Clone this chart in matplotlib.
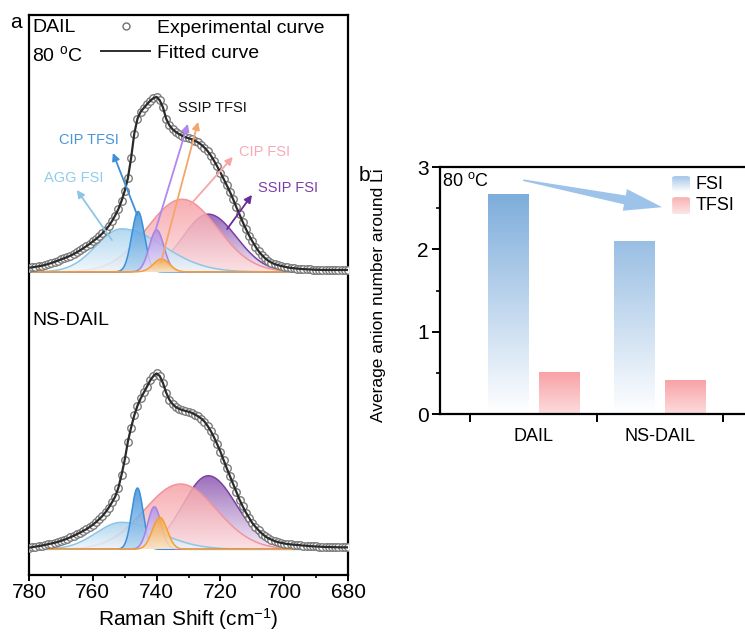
import matplotlib

matplotlib.use("Agg")
import matplotlib.pyplot as plt
import numpy as np
from matplotlib.colors import LinearSegmentedColormap
from matplotlib.lines import Line2D
from matplotlib.patches import FancyBboxPatch, Polygon

plt.rcParams["font.family"] = ["Liberation Sans", "DejaVu Sans"]
plt.rcParams["mathtext.fontset"] = "custom"
plt.rcParams["mathtext.rm"] = "Liberation Sans"
plt.rcParams["mathtext.it"] = "Liberation Sans:italic"

# Raman spectra, 780 -> 680 cm-1 in 1 cm-1 steps, normalised to the main peak
SHIFT = np.arange(780, 679, -1)
DAIL_EXP = [
    0.024, 0.026, 0.029, 0.032, 0.035, 0.040, 0.045, 0.051, 0.057, 0.064,
    0.071, 0.078, 0.085, 0.093, 0.102, 0.112, 0.123, 0.135, 0.147, 0.160,
    0.174, 0.188, 0.203, 0.220, 0.240, 0.262, 0.290, 0.322, 0.358, 0.405,
    0.462, 0.535, 0.650, 0.790, 0.875, 0.915, 0.937, 0.958, 0.978, 0.993,
    1.000, 0.980, 0.940, 0.875, 0.838, 0.815, 0.800, 0.788, 0.778, 0.770,
    0.764, 0.758, 0.750, 0.740, 0.727, 0.710, 0.690, 0.665, 0.635, 0.603,
    0.568, 0.532, 0.495, 0.457, 0.415, 0.370, 0.328, 0.285, 0.245, 0.208,
    0.175, 0.145, 0.118, 0.096, 0.078, 0.064, 0.053, 0.045, 0.039, 0.034,
    0.030, 0.026, 0.023, 0.021, 0.019, 0.017, 0.016, 0.015, 0.014, 0.013,
    0.012, 0.012, 0.011, 0.011, 0.011, 0.011, 0.011, 0.011, 0.011, 0.011,
    0.011,
]
NSDAIL_EXP = [
    0.009, 0.012, 0.015, 0.018, 0.021, 0.025, 0.029, 0.033, 0.037, 0.042,
    0.048, 0.054, 0.061, 0.069, 0.077, 0.086, 0.095, 0.105, 0.115, 0.127,
    0.140, 0.155, 0.172, 0.190, 0.212, 0.238, 0.268, 0.300, 0.350, 0.425,
    0.510, 0.615, 0.695, 0.765, 0.820, 0.862, 0.896, 0.930, 0.965, 0.990,
    1.005, 0.990, 0.950, 0.895, 0.855, 0.830, 0.813, 0.803, 0.796, 0.791,
    0.786, 0.780, 0.770, 0.760, 0.747, 0.730, 0.705, 0.675, 0.640, 0.600,
    0.558, 0.510, 0.463, 0.418, 0.373, 0.328, 0.283, 0.245, 0.210, 0.180,
    0.150, 0.128, 0.108, 0.090, 0.075, 0.063, 0.055, 0.047, 0.041, 0.037,
    0.033, 0.030, 0.028, 0.026, 0.025, 0.023, 0.021, 0.020, 0.018, 0.017,
    0.016, 0.015, 0.014, 0.013, 0.013, 0.012, 0.012, 0.011, 0.011, 0.011,
    0.011,
]

# fitted peak components (drawing order), split-Gaussian parameters
COMPONENTS = ["SSIP FSI", "CIP FSI", "AGG FSI", "CIP TFSI", "SSIP TFSI", "TFSI-b"]
DAIL_CENTRE = [723.8, 732.0, 751.0, 745.8, 740.0, 738.5]
DAIL_HEIGHT = [0.330, 0.415, 0.246, 0.345, 0.240, 0.074]
DAIL_SIG_HI = [8.0, 11.0, 8.0, 2.0, 2.3, 2.5]
DAIL_SIG_LO = [8.8, 11.0, 13.0, 2.0, 2.3, 2.5]
NSDAIL_CENTRE = [723.8, 732.5, 751.0, 746.0, 740.7, 739.0]
NSDAIL_HEIGHT = [0.420, 0.373, 0.154, 0.350, 0.243, 0.183]
NSDAIL_SIG_HI = [8.0, 11.3, 8.0, 1.8, 2.1, 2.3]
NSDAIL_SIG_LO = [8.8, 11.3, 12.0, 1.8, 2.1, 2.3]

COMP_TOP = ["#8a55ae", "#f6a0a6", "#a6d1ee", "#3b92dc", "#b08fe8", "#f8a43c"]
COMP_BOT = ["#f1e7f6", "#fde0e1", "#edf6fc", "#b4d6f2", "#ebe2f9", "#fde4bf"]
COMP_EDGE = ["#7c40a3", "#f2949b", "#8ec6e8", "#3a8fd8", "#a583e2", "#f5a030"]

DAIL_OFFSET = 1.585

# coordination numbers from the bar panel
GROUPS = ["DAIL", "NS-DAIL"]
FSI_NUM = [2.67, 2.10]
TFSI_NUM = [0.51, 0.41]


def split_gauss(x, c, h, s_hi, s_lo):
    s = np.where(x > c, s_hi, s_lo)
    return h * np.exp(-0.5 * ((x - c) / s) ** 2)


def gradient_fill(ax, x, base, y, c_bot, c_top, edge, z):
    poly = ax.fill_between(x, base, y, facecolor="none", edgecolor="none", zorder=z)
    cmap = LinearSegmentedColormap.from_list("g", [c_bot, c_top])
    grad = np.linspace(0, 1, 256).reshape(-1, 1)
    im = ax.imshow(grad, cmap=cmap, aspect="auto", origin="lower",
                   extent=[x.min(), x.max(), base, y.max()],
                   alpha=0.85, zorder=z, interpolation="bilinear")
    im.set_clip_path(poly.get_paths()[0], transform=ax.transData)
    ax.plot(x, y, color=edge, lw=1.1, zorder=z + 0.1)


def draw_spectrum(ax, offset, exp, centre, height, sig_hi, sig_lo):
    xf = np.linspace(780, 680, 1001)
    for i in range(len(COMPONENTS)):
        y = offset + split_gauss(xf, centre[i], height[i], sig_hi[i], sig_lo[i])
        gradient_fill(ax, xf, offset, y, COMP_BOT[i], COMP_TOP[i], COMP_EDGE[i], 2 + i)
    ax.plot(SHIFT, offset + np.array(exp), ls="none", marker="o", ms=5.4,
            mfc="white", mec="#7a7a7a", mew=1.0, zorder=10)
    ax.plot(SHIFT, offset + np.array(exp), color="#2a2a2a", lw=1.6, zorder=11)


fig = plt.figure(figsize=(7.45, 6.32), dpi=100)

# ---- panel a: Raman spectra
ax = fig.add_axes([29 / 745, 1 - 575 / 632, 319 / 745, 560 / 632])
draw_spectrum(ax, DAIL_OFFSET, DAIL_EXP, DAIL_CENTRE, DAIL_HEIGHT, DAIL_SIG_HI, DAIL_SIG_LO)
draw_spectrum(ax, 0.0, NSDAIL_EXP, NSDAIL_CENTRE, NSDAIL_HEIGHT, NSDAIL_SIG_HI, NSDAIL_SIG_LO)
ax.set_xlim(780, 680)
ax.set_ylim(-0.147, 3.053)
ax.set_yticks([])
ax.set_xticks(np.arange(780, 679, -20))
ax.set_xticks(np.arange(770, 680, -20), minor=True)
ax.tick_params(axis="x", which="major", direction="out", length=4, width=1.4,
               labelsize=15, pad=2)
ax.tick_params(axis="x", which="minor", direction="out", length=2.5, width=1.2)
for sp in ax.spines.values():
    sp.set_linewidth(1.6)
ax.set_xlabel("Raman Shift (cm$^{-1}$)", fontsize=15, labelpad=3)

ax.text(0.01, 0.977, "DAIL", transform=ax.transAxes, fontsize=14, va="center")
ax.text(0.01, 0.929, r"80 $^{\mathrm{o}}$C", transform=ax.transAxes, fontsize=14, va="center")
ax.text(0.01, 0.455, "NS-DAIL", transform=ax.transAxes, fontsize=14, va="center")

handles = [
    Line2D([], [], ls="none", marker="o", ms=5, mfc="white", mec="#707070", mew=1.0),
    Line2D([], [], color="#2e2e2e", lw=1.4),
]
ax.legend(handles, ["Experimental curve", "Fitted curve"], loc="upper left",
          bbox_to_anchor=(0.215, 0.999), frameon=False, fontsize=14,
          handlelength=2.5, handletextpad=0.35, labelspacing=0.38,
          borderaxespad=0, borderpad=0.2)

# peak labels with arrows: (text, text x, text y, arrow from, arrow to, colours)
labels = [
    ("AGG FSI", 766.0, 2.122, "#8fcdea", [((754.0, 1.767), (765.0, 2.053), "#8ec5e6")]),
    ("CIP TFSI", 761.3, 2.339, "#4a94d8", [((746.1, 1.911), (753.7, 2.265), "#3e8fd6")]),
    ("SSIP TFSI", 722.5, 2.52, "#111111", [((740.5, 1.813), (730.2, 2.431), "#b088ee"),
                                           ((738.6, 1.642), (727.0, 2.442), "#f4a66a")]),
    ("CIP FSI", 706.0, 2.269, "#f5aab5", [((729.5, 1.967), (716.1, 2.242), "#f7a5a5")]),
    ("SSIP FSI", 698.8, 2.066, "#7b3fa7", [((717.9, 1.830), (710.1, 2.025), "#6a2c96")]),
]
for text, tx, ty, tcol, arrows in labels:
    ax.text(tx, ty, text, color=tcol, fontsize=10.5, ha="center", va="center", zorder=20)
    for start, end, acol in arrows:
        ax.annotate("", xy=end, xytext=start, zorder=19,
                    arrowprops=dict(arrowstyle="-|>", color=acol, lw=1.3,
                                    mutation_scale=11, shrinkA=0, shrinkB=0))

fig.text(10 / 745, 1 - 22 / 632, "a", fontsize=15, va="center")

# ---- panel b: average anion number around Li
ax2 = fig.add_axes([440 / 745, 1 - 414 / 632, 321 / 745, 247 / 632])
xpos = np.arange(len(GROUPS)) + 0.5
width = 0.32
fsi_top = 2.8
cmap_fsi = LinearSegmentedColormap.from_list("fsi", ["#ffffff", "#78a9da"])
cmap_tfsi = LinearSegmentedColormap.from_list("tfsi", ["#fddcdd", "#f8a2a6"])
for i, xc in enumerate(xpos):
    h = FSI_NUM[i]
    g = np.linspace(0, h / fsi_top, 256).reshape(-1, 1)
    ax2.imshow(g, cmap=cmap_fsi, vmin=0, vmax=1, aspect="auto", origin="lower",
               extent=[xc - 0.2 - width / 2, xc - 0.2 + width / 2, 0, h], zorder=2)
    h = TFSI_NUM[i]
    g = np.linspace(0, 1, 256).reshape(-1, 1)
    ax2.imshow(g, cmap=cmap_tfsi, vmin=0, vmax=1, aspect="auto", origin="lower",
               extent=[xc + 0.2 - width / 2, xc + 0.2 + width / 2, 0, h], zorder=2)

ax2.set_xlim(-0.24, 2.3)
ax2.set_ylim(0, 3)
ax2.set_xticks([0, 1, 2])
ax2.set_xticklabels([])
ax2.set_xticks(xpos, minor=True)
ax2.set_xticklabels(GROUPS, minor=True)
ax2.tick_params(axis="x", which="major", direction="out", length=6, width=1.4)
ax2.tick_params(axis="x", which="minor", length=0, labelsize=13, pad=10)
ax2.set_yticks([0, 1, 2, 3])
ax2.set_yticks([0.5, 1.5, 2.5], minor=True)
ax2.tick_params(axis="y", which="major", direction="out", length=6, width=1.4,
                labelsize=15, pad=2)
ax2.tick_params(axis="y", which="minor", direction="out", length=3, width=1.2)
for sp in ax2.spines.values():
    sp.set_linewidth(1.6)
ax2.spines["right"].set_visible(False)

ax2.text(-0.225, 2.835, r"80 $^{\mathrm{o}}$C", fontsize=13, va="center")

# legend swatches
leg = [("FSI", 2.695, 2.89, ["#ffffff", "#9dc2e8"]),
       ("TFSI", 2.427, 2.634, ["#fde6e6", "#f8aeb0"])]
for name, y0, y1, cols in leg:
    box = FancyBboxPatch((1.597, y0), 0.142, y1 - y0,
                         boxstyle="round,pad=0,rounding_size=0.03",
                         mutation_aspect=0.65, facecolor="none", edgecolor="none")
    ax2.add_patch(box)
    im = ax2.imshow(np.linspace(0, 1, 64).reshape(-1, 1),
                    cmap=LinearSegmentedColormap.from_list(name, cols),
                    aspect="auto", origin="lower", extent=[1.597, 1.739, y0, y1], zorder=3)
    im.set_clip_path(box)
    ax2.text(1.78, (y0 + y1) / 2, name, fontsize=13, va="center")

ax2.set_xlim(-0.24, 2.3)
ax2.set_ylim(0, 3)

# trend arrow from DAIL to NS-DAIL
tail = ax2.transData.transform((0.419, 2.84))
tip = ax2.transData.transform((1.518, 2.512))
u = (tip - tail) / np.hypot(*(tip - tail))
n = np.array([-u[1], u[0]])
base = tip - u * 38
pts = np.array([tail + n * 0.8, base + n * 4.5, base + n * 11, tip,
                base - n * 11, base - n * 4.5, tail - n * 0.8])
pts = ax2.transData.inverted().transform(pts)
ax2.add_patch(Polygon(pts, closed=True, facecolor="#9ec3ea", edgecolor="none", zorder=4))

fig.text(379 / 745, 1 - 295 / 632, "Average anion number around Li", rotation=90,
         fontsize=12.5, ha="center", va="center")
fig.text(359 / 745, 1 - 176 / 632, "b", fontsize=15, va="center")

fig.savefig("out.png", dpi=100)
